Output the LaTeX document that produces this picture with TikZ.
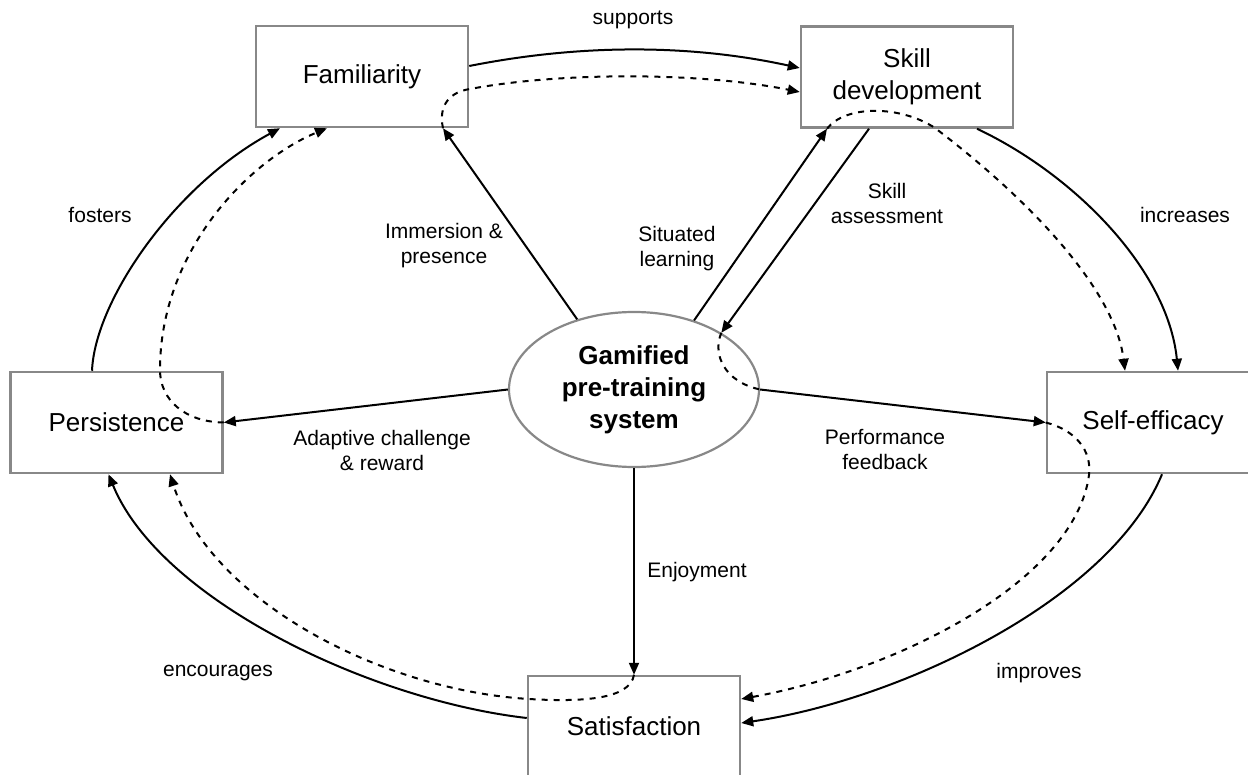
\documentclass[tikz,border=0pt]{standalone}
\usepackage{fontspec}
\setmainfont{Liberation Sans}
\usetikzlibrary{arrows.meta,calc,shapes.geometric}
\definecolor{boxgray}{HTML}{888888}
\tikzset{
  box/.style={draw=boxgray, line width=1.25pt, minimum width=106pt, minimum height=50.5pt, inner sep=0pt, font=\fontsize{13}{16}\selectfont, align=center},
  hub/.style={ellipse, draw=boxgray, line width=1.1pt, minimum width=125pt, minimum height=77.5pt, inner sep=0pt, font=\bfseries\fontsize{13}{16}\selectfont, align=center},
  lbl/.style={font=\fontsize{10.5}{12.5}\selectfont, align=center, inner sep=0pt},
  link/.style={line width=1pt, -{Triangle[length=6pt,width=5pt]}},
  flow/.style={link, dash pattern=on 3pt off 3pt},
  plainflow/.style={line width=1pt, dash pattern=on 3pt off 3pt}
}
\begin{document}
\begin{tikzpicture}[x=0.5pt,y=-0.5pt]
\useasboundingbox (0,0) rectangle (1248,775);
\clip (0,0) rectangle (1248,775);
% nodes
\node[box] (fam) at (362,76.5) {Familiarity};
\node[box] (skill) at (907,77) {Skill\\development};
\node[box] (pers) at (116.5,422.5) {Persistence};
\node[box] (self) at (1153,422.5) {Self-efficacy};
\node[box] (sat) at (634,726.5) {Satisfaction};
\node[hub] (ell) at (634,389.5) {Gamified\\pre-training\\system};
% anchor points
\coordinate (famImm) at ($(fam.south)+(81,0)$);
\coordinate (famDash) at ($(fam.south)+(-35,0)$);
\coordinate (famFos) at ($(fam.south)+(-82,0)$);
\coordinate (famSup) at ($(fam.east)+(0,-10.5)$);
\coordinate (skSup) at ($(skill.west)+(0,-9)$);
\coordinate (skDash) at ($(skill.west)+(0,15)$);
\coordinate (skSit) at ($(skill.south)+(-80,0)$);
\coordinate (skAss) at ($(skill.south)+(-38,0)$);
\coordinate (skInc) at ($(skill.south)+(70,0)$);
\coordinate (selfInc) at ($(self.north)+(25,0)$);
\coordinate (selfDash) at ($(self.north)+(-28,0)$);
\coordinate (selfImp) at ($(self.south)+(9,0)$);
\coordinate (satImp) at ($(sat.east)+(0,-3.5)$);
\coordinate (satDash) at ($(sat.east)+(0,-27.5)$);
\coordinate (satEnc) at ($(sat.west)+(0,-8.5)$);
\coordinate (persEnc) at ($(pers.south)+(-8,0)$);
\coordinate (persDash) at ($(pers.south)+(53.5,0)$);
\coordinate (persFos) at ($(pers.north)+(-24.5,0)$);
% outer cycle
\draw[link] (famSup) .. controls (580,44) and (690,44) .. (skSup);
\draw[link] (skInc) .. controls (1075,175) and (1168,270) .. (selfInc);
\draw[link] (selfImp) .. controls (1110,600) and (900,700) .. (satImp);
\draw[link] (satEnc) .. controls (370,700) and (160,600) .. (persEnc);
\draw[link] (persFos) .. controls (95,300) and (175,185) .. (famFos);
% spokes
\draw[link] (ell.129) -- (famImm);
\draw[link] (ell.49) -- (skSit);
\draw[link] (skAss) -- (ell.33);
\draw[link] (ell.west) -- (pers.east);
\draw[link] (ell.east) -- (self.west);
\draw[link] (ell.south) -- (sat.north);
% dashed flow
\draw[flow] (famImm) .. controls (438,105) and (450,92) .. (470,89) .. controls (560,72) and (700,72) .. (skDash);
\draw[flow] (skSit) .. controls (845,105) and (900,105) .. (935,128) .. controls (1030,200) and (1115,290) .. (selfDash);
\draw[plainflow] (ell.33) .. controls (712,355) and (725,382) .. (ell.east);
\draw[flow] (self.west) .. controls (1075,430) and (1092,450) .. (1089,475) .. controls (1075,580) and (900,670) .. (satDash);
\draw[flow] (sat.north) .. controls (630,700) and (580,702) .. (529,699) .. controls (380,690) and (210,600) .. (persDash);
\draw[flow] (pers.east) .. controls (185,422) and (160,400) .. (160,370) .. controls (160,250) and (250,160) .. (famDash);
% labels
\node[lbl] (lSup) at (633,20) {supports};
\node[lbl] (lFos) at (100,215) {fosters};
\node[lbl] (lInc) at (1185,215) {increases};
\node[lbl] (lEnc) at (218,673) {encourages};
\node[lbl] (lImp) at (1039,673) {improves};
\node[lbl] (lImm) at (444,246) {Immersion \&\\presence};
\node[lbl] (lSit) at (677,249) {Situated\\learning};
\node[lbl] (lAss) at (887,203) {Skill\\assessment};
\node[lbl] (lAda) at (382,450) {Adaptive challenge\\\& reward};
\node[lbl] (lPer) at (885,450) {Performance\\feedback};
\node[lbl] (lEnj) at (697,572) {Enjoyment};
\end{tikzpicture}
\end{document}
